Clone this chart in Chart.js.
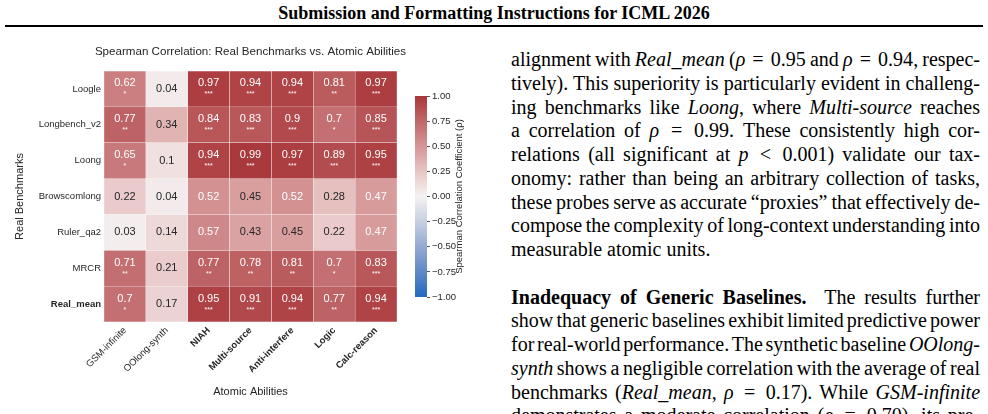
<!DOCTYPE html>
<html><head><meta charset="utf-8">
<script src="https://cdn.jsdelivr.net/npm/chart.js@4.4.1/dist/chart.umd.min.js"></script>
<style>
html,body{margin:0;padding:0;width:988px;height:414px;overflow:hidden;background:#fff;}
#hdr{position:absolute;left:0;width:988px;top:2px;text-align:center;font:bold 18px "Liberation Serif",serif;line-height:22px;color:#000;}
#rule{position:absolute;left:5px;width:978px;top:25px;height:2px;background:#000;}
#heat{position:absolute;left:0;top:40px;}
#cbar{position:absolute;left:405px;top:85px;}
#txt{position:absolute;left:511px;top:48px;width:469px;font:20px "Liberation Serif",serif;line-height:23.75px;color:#000;word-spacing:-3px;}
#txt .l{text-align:justify;text-align-last:justify;height:23.75px;}
#txt .e{text-align:left;height:23.75px;word-spacing:0;}
#txt .m{word-spacing:0;}
</style></head>
<body>
<div id="hdr">Submission and Formatting Instructions for ICML 2026</div>
<div id="rule"></div>
<canvas id="heat" width="410" height="360"></canvas>
<canvas id="cbar" width="75" height="225"></canvas>
<div id="txt">
<div class="l">alignment with <i>Real_mean</i> (<span class="m"><i>ρ</i> = 0.95</span> and <span class="m"><i>ρ</i> = 0.94</span>, respec-</div>
<div class="l">tively). This superiority is particularly evident in challeng-</div>
<div class="l">ing benchmarks like <i>Loong</i>, where <i>Multi-source</i> reaches</div>
<div class="l">a correlation of <span class="m"><i>ρ</i> = 0.99</span>. These consistently high cor-</div>
<div class="l">relations (all significant at <span class="m"><i>p</i> &lt; 0.001</span>) validate our tax-</div>
<div class="l">onomy: rather than being an arbitrary collection of tasks,</div>
<div class="l">these probes serve as accurate “proxies” that effectively de-</div>
<div class="l">compose the complexity of long-context understanding into</div>
<div class="e">measurable atomic units.</div>
<div class="e"></div>
<div class="l"><b>Inadequacy of Generic Baselines.</b>&nbsp; The results further</div>
<div class="l">show that generic baselines exhibit limited predictive power</div>
<div class="l">for real-world performance. The synthetic baseline <i>OOlong-</i></div>
<div class="l"><i>synth</i> shows a negligible correlation with the average of real</div>
<div class="l">benchmarks (<i>Real_mean</i>, <span class="m"><i>ρ</i> = 0.17</span>). While <i>GSM-infinite</i></div>
<div class="l">demonstrates a moderate correlation (<span class="m"><i>ρ</i> = 0.70</span>), its pre-</div>
</div>
<script>
// ---- data ----
const columns = ['GSM-infinite','OOlong-synth','NIAH','Multi-source','Anti-interfere','Logic','Calc-reason'];
const rows = ['Loogle','Longbench_v2','Loong','Browscomlong','Ruler_qa2','MRCR','Real_mean'];
const boldColumns = ['NIAH','Multi-source','Anti-interfere','Logic','Calc-reason'];
const boldRows = ['Real_mean'];

const rhoLoogle       = [0.62, 0.04, 0.97, 0.94, 0.94, 0.81, 0.97];
const rhoLongbenchV2  = [0.77, 0.34, 0.84, 0.83, 0.9,  0.7,  0.85];
const rhoLoong        = [0.65, 0.1,  0.94, 0.99, 0.97, 0.89, 0.95];
const rhoBrowscomlong = [0.22, 0.04, 0.52, 0.45, 0.52, 0.28, 0.47];
const rhoRulerQa2     = [0.03, 0.14, 0.57, 0.43, 0.45, 0.22, 0.47];
const rhoMRCR         = [0.71, 0.21, 0.77, 0.78, 0.81, 0.7,  0.83];
const rhoRealMean     = [0.7,  0.17, 0.95, 0.91, 0.94, 0.77, 0.94];

const starsLoogle       = ['*',  '', '***','***','***','**', '***'];
const starsLongbenchV2  = ['**', '', '***','***','***','*',  '***'];
const starsLoong        = ['*',  '', '***','***','***','***','***'];
const starsBrowscomlong = ['',   '', '',   '',   '',   '',   ''];
const starsRulerQa2     = ['',   '', '',   '',   '',   '',   ''];
const starsMRCR         = ['**', '', '**', '**', '**', '*',  '***'];
const starsRealMean     = ['*',  '', '***','***','***','**', '***'];

const colorbarTicks = [-1, -0.75, -0.5, -0.25, 0, 0.25, 0.5, 0.75, 1];

const rhoRows = [rhoLoogle, rhoLongbenchV2, rhoLoong, rhoBrowscomlong, rhoRulerQa2, rhoMRCR, rhoRealMean];
const starRows = [starsLoogle, starsLongbenchV2, starsLoong, starsBrowscomlong, starsRulerQa2, starsMRCR, starsRealMean];

// ---- style ----
const FONT = '"Liberation Sans", Arial, sans-serif';
const TXT = '#262626';
const cmap = [[-1,[35,105,189]],[-0.75,[94,136,199]],[-0.5,[148,170,210]],[-0.25,[198,207,226]],[0,[245,242,242]],[0.25,[232,197,197]],[0.5,[213,149,150]],[0.75,[192,103,105]],[1,[169,55,59]]];
function colorFor(v){
  for(let i=0;i<cmap.length-1;i++){
    const [a,ca]=cmap[i],[b,cb]=cmap[i+1];
    if(v>=a && v<=b){const t=(v-a)/(b-a);
      return 'rgb('+ca.map((c,k)=>Math.round(c+(cb[k]-c)*t)).join(',')+')';}
  }
  return 'rgb(169,55,59)';
}

const datasets = rows.map((name, r) => {
  const pos = rows.length - 1 - r;
  return {
    label: name,
    data: columns.map(() => [pos, pos + 1]),
    rho: rhoRows[r],
    stars: starRows[r],
    backgroundColor: rhoRows[r].map(colorFor),
    borderColor: 'rgba(255,255,255,0.35)',
    borderWidth: 0.5,
    borderSkipped: false,
    barPercentage: 1,
    categoryPercentage: 1,
    grouped: false
  };
});

const cellText = {
  id: 'cellText',
  afterDatasetsDraw(chart){
    const ctx = chart.ctx;
    ctx.save();
    ctx.textAlign = 'center';
    ctx.textBaseline = 'middle';
    chart.data.datasets.forEach((ds, di) => {
      chart.getDatasetMeta(di).data.forEach((el, ci) => {
        const v = ds.rho[ci], st = ds.stars[ci];
        const cx = el.x, cy = (el.y + el.base) / 2;
        ctx.fillStyle = v >= 0.46 ? '#ffffff' : TXT;
        ctx.font = '11px ' + FONT;
        if (st) {
          ctx.fillText(String(v), cx, cy - 5.5);
          ctx.font = '7px ' + FONT;
          ctx.fillText(st, cx, cy + 5.5);
        } else {
          ctx.fillText(String(v), cx, cy);
        }
      });
    });
    ctx.restore();
  }
};

const heatTitle = {
  id: 'heatTitle',
  afterDraw(chart){
    const {ctx, chartArea} = chart;
    ctx.save();
    ctx.fillStyle = TXT;
    ctx.font = '11.6px ' + FONT;
    ctx.textAlign = 'center';
    ctx.textBaseline = 'middle';
    ctx.fillText('Spearman Correlation: Real Benchmarks vs. Atomic Abilities', (chartArea.left + chartArea.right) / 2, 12);
    ctx.restore();
  }
};

new Chart(document.getElementById('heat'), {
  type: 'bar',
  data: { labels: columns, datasets },
  plugins: [cellText, heatTitle],
  options: {
    responsive: false, animation: false, devicePixelRatio: 1,
    layout: { padding: { left: 0, right: 13, top: 31, bottom: 0 } },
    plugins: { legend: { display: false }, tooltip: { enabled: false } },
    scales: {
      x: {
        grid: { display: false, drawTicks: false }, border: { display: false },
        ticks: { autoSkip: false, maxRotation: 45, minRotation: 45, color: TXT, padding: 3,
          font: (c) => ({ family: FONT, size: 9.5, weight: boldColumns.includes(columns[c.index]) ? 'bold' : 'normal' }) },
        title: { display: true, text: 'Atomic Abilities', color: TXT, font: { family: FONT, size: 11 }, padding: { top: 0, bottom: 1 } },
        afterFit: (s) => { s.height = 78; }
      },
      y: {
        min: 0, max: rows.length,
        grid: { display: false, drawTicks: false }, border: { display: false },
        afterBuildTicks: (s) => { s.ticks = rows.map((_, i) => ({ value: i + 0.5 })); },
        ticks: { autoSkip: false, color: TXT, padding: 3,
          callback: (v) => rows[rows.length - 1 - Math.floor(v)],
          font: (c) => ({ family: FONT, size: 9.5, weight: boldRows.includes(rows[rows.length - 1 - Math.floor(c.tick ? c.tick.value : 0)]) ? 'bold' : 'normal' }) },
        title: { display: true, text: 'Real Benchmarks', color: TXT, font: { family: FONT, size: 11 }, padding: { top: 13, bottom: 0 } },
        afterFit: (s) => { s.width = 104; }
      }
    }
  }
});

const cbarTitle = {
  id: 'cbarTitle',
  afterDraw(chart){
    const {ctx, chartArea} = chart;
    ctx.save();
    ctx.translate(chartArea.right + 32, (chartArea.top + chartArea.bottom) / 2);
    ctx.rotate(-Math.PI / 2);
    ctx.fillStyle = TXT;
    ctx.font = '9.5px ' + FONT;
    ctx.textAlign = 'center';
    ctx.textBaseline = 'middle';
    ctx.fillText('Spearman Correlation Coefficient (ρ)', 0, 0);
    ctx.restore();
  }
};

new Chart(document.getElementById('cbar'), {
  type: 'bar',
  data: { labels: [''], datasets: [{
    data: [[colorbarTicks[0], colorbarTicks[colorbarTicks.length - 1]]],
    barPercentage: 1, categoryPercentage: 1, borderWidth: 0,
    backgroundColor: (c) => {
      const ch = c.chart; if (!ch.chartArea) return 'rgba(0,0,0,0)';
      const y = ch.scales.y;
      const g = ch.ctx.createLinearGradient(0, y.getPixelForValue(-1), 0, y.getPixelForValue(1));
      cmap.forEach(([v, col]) => g.addColorStop((v + 1) / 2, 'rgb(' + col.join(',') + ')'));
      return g;
    }
  }]},
  plugins: [cbarTitle],
  options: {
    responsive: false, animation: false, devicePixelRatio: 1,
    layout: { padding: { left: 10, top: 11, bottom: 13, right: 0 } },
    plugins: { legend: { display: false }, tooltip: { enabled: false } },
    scales: {
      x: { display: false },
      y: {
        position: 'right', min: -1, max: 1,
        afterBuildTicks: (s) => { s.ticks = colorbarTicks.map(v => ({ value: v })); },
        ticks: { color: TXT, padding: 2, font: { family: FONT, size: 9.5 },
          callback: (v) => (v < 0 ? '\u2212' : '') + Math.abs(v).toFixed(2) },
        grid: { drawOnChartArea: false, drawTicks: true, tickLength: 3, tickColor: TXT, tickWidth: 0.8 },
        border: { display: false },
        afterFit: (s) => { s.width = 53; }
      }
    }
  }
});
</script>
</body></html>
